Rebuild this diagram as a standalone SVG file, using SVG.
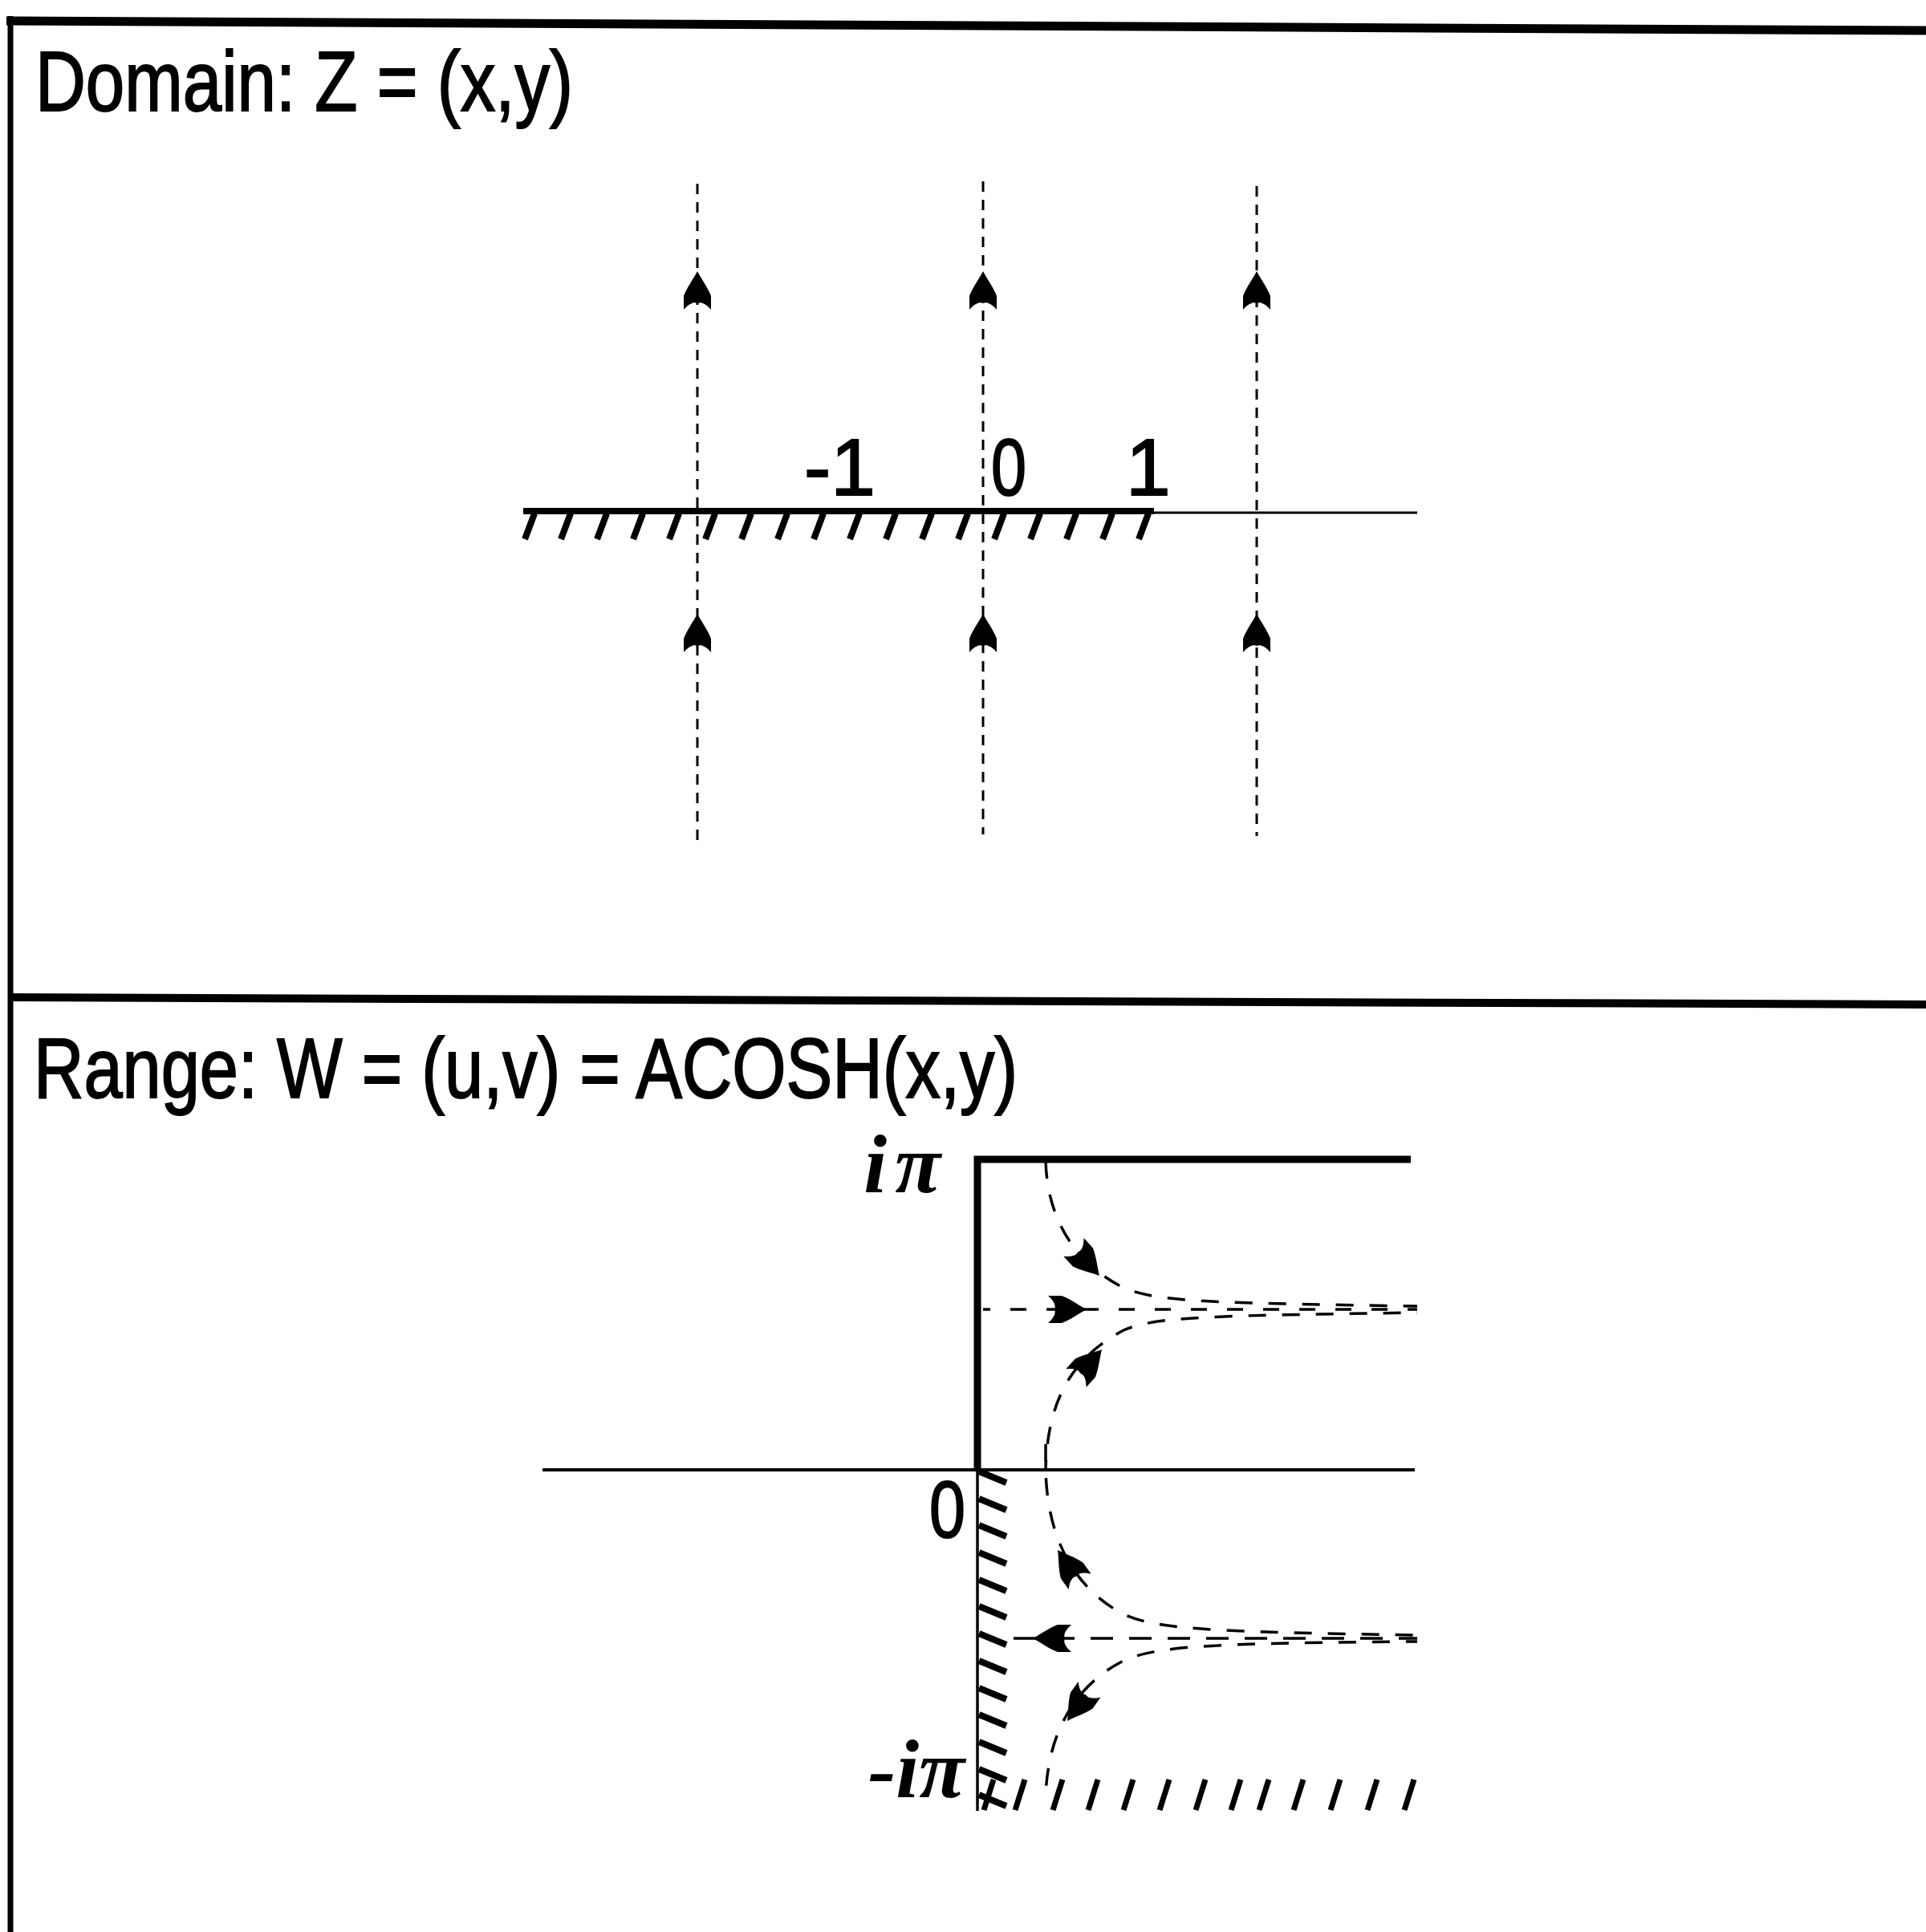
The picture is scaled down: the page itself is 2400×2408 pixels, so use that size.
<svg xmlns="http://www.w3.org/2000/svg" width="2400" height="2408" viewBox="0 0 2400 2408">
<style>
.ttl{font-family:"Liberation Sans",Arial,sans-serif;font-size:106px;fill:#000;stroke:#000;stroke-width:2}
.num{font-family:"Liberation Sans",Arial,sans-serif;font-size:100px;fill:#000;stroke:#000;stroke-width:2}
.mth{font-family:"Liberation Serif","Times New Roman",serif;font-style:italic;font-weight:bold;font-size:104px;fill:#000}
.vdash{stroke:#000;stroke-width:3;stroke-dasharray:13 10;fill:none}
.cdash{stroke:#000;stroke-width:3.5;stroke-dasharray:22 20;fill:none}
.hdash{stroke:#000;stroke-width:3.5;fill:none}
.solid{stroke:#000;fill:none}
</style>
<defs>
<path id="ah" d="M0,0 C-8,-4 -20,-13 -31,-17 L-48,-17 C-40,-10 -38,-4 -40,0 C-38,4 -40,10 -48,17 L-31,17 C-20,13 -8,4 0,0 Z" fill="#000"/>
<line id="hz" x1="12" y1="0" x2="0" y2="32" stroke="#000" stroke-width="8"/>
<line id="hv" x1="0" y1="0" x2="34" y2="14" stroke="#000" stroke-width="8"/>
<line id="hb" x1="12" y1="0" x2="0" y2="38" stroke="#000" stroke-width="7"/>
</defs>
<rect width="2400" height="2408" fill="#fff"/>

<g id="frame">
<line class="solid" x1="8" y1="26" x2="2400" y2="38" stroke-width="11"/>
<line class="solid" x1="13" y1="20" x2="13" y2="2408" stroke-width="7"/>
<line class="solid" x1="10" y1="1243" x2="2400" y2="1252" stroke-width="10"/>
</g>

<g id="domain-panel">
<text class="ttl" x="44" y="138" textLength="670" lengthAdjust="spacingAndGlyphs">Domain: Z = (x,y)</text>
<g id="domain-axis">
<line class="solid" x1="652" y1="637" x2="1438" y2="637" stroke-width="8"/>
<line class="solid" x1="1436" y1="639" x2="1766" y2="639" stroke-width="3"/>
<use href="#hz" x="654" y="640"/><use href="#hz" x="699" y="640"/><use href="#hz" x="744" y="640"/>
<use href="#hz" x="789" y="640"/><use href="#hz" x="834" y="640"/><use href="#hz" x="879" y="640"/>
<use href="#hz" x="924" y="640"/><use href="#hz" x="969" y="640"/><use href="#hz" x="1014" y="640"/>
<use href="#hz" x="1059" y="640"/><use href="#hz" x="1104" y="640"/><use href="#hz" x="1149" y="640"/>
<use href="#hz" x="1194" y="640"/><use href="#hz" x="1239" y="640"/><use href="#hz" x="1284" y="640"/>
<use href="#hz" x="1329" y="640"/><use href="#hz" x="1374" y="640"/><use href="#hz" x="1419" y="640"/>
<text class="num" x="1002" y="617">-1</text>
<text class="num" x="1235" y="617" textLength="44" lengthAdjust="spacingAndGlyphs">0</text>
<text class="num" x="1403" y="617">1</text>
</g>
</g>

<g id="range-panel">
<text class="ttl" x="42" y="1368" textLength="1226" lengthAdjust="spacingAndGlyphs">Range: W = (u,v) = ACOSH(x,y)</text>
<g id="range-axes">
<line class="solid" x1="676" y1="1832" x2="1763" y2="1832" stroke-width="4"/>
<path class="solid" d="M1218,1832 L1218,1445 L1758,1445" stroke-width="9" stroke-linejoin="miter"/>
<line class="solid" x1="1218" y1="1832" x2="1218" y2="2257" stroke-width="3.5"/>
<use href="#hv" x="1220" y="1834"/><use href="#hv" x="1220" y="1868"/><use href="#hv" x="1220" y="1901"/>
<use href="#hv" x="1220" y="1935"/><use href="#hv" x="1220" y="1969"/><use href="#hv" x="1220" y="2002"/>
<use href="#hv" x="1220" y="2036"/><use href="#hv" x="1220" y="2070"/><use href="#hv" x="1220" y="2104"/>
<use href="#hv" x="1220" y="2137"/><use href="#hv" x="1220" y="2171"/><use href="#hv" x="1220" y="2205"/>
<use href="#hv" x="1220" y="2237"/>
<use href="#hb" x="1226" y="2218"/><use href="#hb" x="1265" y="2218"/><use href="#hb" x="1312" y="2218"/>
<use href="#hb" x="1356" y="2218"/><use href="#hb" x="1400" y="2218"/><use href="#hb" x="1445" y="2218"/>
<use href="#hb" x="1490" y="2218"/><use href="#hb" x="1534" y="2218"/><use href="#hb" x="1569" y="2218"/>
<use href="#hb" x="1612" y="2218"/><use href="#hb" x="1658" y="2218"/><use href="#hb" x="1704" y="2218"/>
<use href="#hb" x="1750" y="2218"/>
<text class="mth" x="1172" y="1486" text-anchor="end">i<tspan dx="10">π</tspan></text>
<text class="num" x="1158" y="1916" font-size="96" textLength="45" lengthAdjust="spacingAndGlyphs">0</text>
<text class="mth" x="1202" y="2240" text-anchor="end">-iπ</text>
</g>
</g>

<g id="connectors">
<line class="vdash" x1="869" y1="229" x2="869" y2="1050"/>
<line class="vdash" x1="1225" y1="226" x2="1225" y2="1040"/>
<line class="vdash" x1="1566" y1="232" x2="1566" y2="1042" stroke-width="4"/>
<use href="#ah" transform="translate(869,338) rotate(-90)"/>
<use href="#ah" transform="translate(1225,338) rotate(-90)"/>
<use href="#ah" transform="translate(1566,338) rotate(-90)"/>
<use href="#ah" transform="translate(869,765) rotate(-90)"/>
<use href="#ah" transform="translate(1225,765) rotate(-90)"/>
<use href="#ah" transform="translate(1566,765) rotate(-90)"/>

<line class="hdash" x1="1225" y1="1632" x2="1766" y2="1632" stroke-dasharray="20 25" stroke-dashoffset="11"/>
<line class="hdash" x1="1263" y1="2042" x2="1766" y2="2042" stroke-dasharray="28 20"/>
<path class="cdash" d="M1303,1447 C1305,1520 1340,1575 1400,1605 C1440,1622 1500,1624 1766,1628"/>
<path class="cdash" d="M1303,1832 C1305,1740 1340,1690 1400,1658 C1440,1641 1500,1640 1766,1636" stroke-dashoffset="10"/>
<path class="cdash" d="M1303,1800 L1303,1832 C1305,1920 1340,1980 1400,2012 C1440,2030 1500,2034 1766,2038"/>
<path class="cdash" d="M1766,2046 C1500,2048 1440,2052 1400,2070 C1340,2100 1305,2160 1303,2240" stroke-dashoffset="8"/>
<use href="#ah" transform="translate(1354,1632)"/>
<use href="#ah" transform="translate(1287,2042) rotate(180)"/>
<use href="#ah" transform="translate(1370,1590) rotate(48)"/>
<use href="#ah" transform="translate(1373,1682) rotate(-48)"/>
<use href="#ah" transform="translate(1318,1932) rotate(-125)"/>
<use href="#ah" transform="translate(1330,2145) rotate(125)"/>
</g>
</svg>
